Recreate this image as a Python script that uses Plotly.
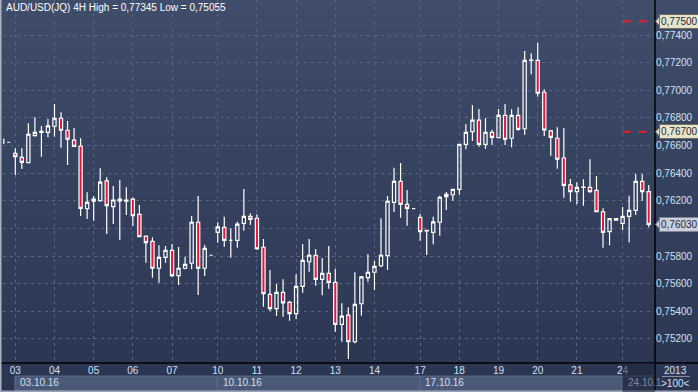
import plotly.graph_objects as go

# ---------------- data (AUD/USD 4H) ----------------
open_ = [0.76646, 0.76624, 0.76544, 0.76515, 0.76476, 0.76672, 0.76695, 0.76696, 0.76740, 0.76798,
         0.76711, 0.76640, 0.76597, 0.76143, 0.76197, 0.76201, 0.76344, 0.76158, 0.76200, 0.76197,
         0.76213, 0.76102, 0.75945, 0.75907, 0.75712, 0.75791, 0.75842, 0.75658, 0.75712, 0.75748,
         0.76045, 0.75712, 0.75806, 0.75972, 0.76008, 0.75914, 0.75914, 0.76037, 0.76088, 0.76074,
         0.75864, 0.75523, 0.75419, 0.75538, 0.75465, 0.75383, 0.75581, 0.75759, 0.75806, 0.75632,
         0.75675, 0.75610, 0.75306, 0.75373, 0.75180, 0.75455, 0.75644, 0.75683, 0.75730, 0.75803,
         0.76189, 0.76341, 0.76175, 0.76143, 0.76081, 0.75982, 0.75972, 0.76045, 0.76230, 0.76244,
         0.76283, 0.76609, 0.76701, 0.76785, 0.76609, 0.76696, 0.76657, 0.76819, 0.76653, 0.76819,
         0.76722, 0.77217, 0.77217, 0.76986, 0.76706, 0.76653, 0.76510, 0.76315, 0.76266, 0.76297,
         0.76298, 0.76276, 0.76121, 0.75977, 0.76071, 0.76037, 0.76088, 0.76131, 0.76341, 0.76266]
high = [0.76650, 0.76626, 0.76580, 0.76580, 0.76761, 0.76805, 0.76742, 0.76792, 0.76901, 0.76841,
        0.76778, 0.76727, 0.76653, 0.76262, 0.76235, 0.76436, 0.76370, 0.76307, 0.76351, 0.76298,
        0.76223, 0.76170, 0.75947, 0.75936, 0.75878, 0.75873, 0.75887, 0.75866, 0.75795, 0.76090,
        0.76235, 0.75880, 0.75808, 0.76045, 0.76085, 0.76001, 0.76049, 0.76286, 0.76110, 0.76102,
        0.75924, 0.75699, 0.75598, 0.75632, 0.75477, 0.75668, 0.75887, 0.75924, 0.75851, 0.75786,
        0.75873, 0.75706, 0.75458, 0.75429, 0.75683, 0.75656, 0.75815, 0.75764, 0.76074, 0.76235,
        0.76440, 0.76474, 0.76278, 0.76145, 0.76105, 0.75989, 0.76085, 0.76237, 0.76264, 0.76285,
        0.76611, 0.76756, 0.76894, 0.76865, 0.76800, 0.76715, 0.76865, 0.76901, 0.76863, 0.76877,
        0.77285, 0.77268, 0.77345, 0.77008, 0.76713, 0.76732, 0.76727, 0.76358, 0.76334, 0.76356,
        0.76501, 0.76380, 0.76146, 0.76073, 0.76073, 0.76155, 0.76237, 0.76394, 0.76394, 0.76315]
low = [0.76610, 0.76622, 0.76387, 0.76430, 0.76472, 0.76666, 0.76520, 0.76660, 0.76664, 0.76585,
       0.76459, 0.76590, 0.76090, 0.76068, 0.76056, 0.76194, 0.75960, 0.76032, 0.75916, 0.76097,
       0.76018, 0.75936, 0.75752, 0.75644, 0.75607, 0.75752, 0.75646, 0.75591, 0.75704, 0.75704,
       0.75518, 0.75656, 0.75804, 0.75897, 0.75868, 0.75788, 0.75861, 0.75984, 0.76025, 0.75844,
       0.75434, 0.75402, 0.75366, 0.75361, 0.75332, 0.75342, 0.75535, 0.75687, 0.75586, 0.75516,
       0.75564, 0.75253, 0.75180, 0.75055, 0.75169, 0.75368, 0.75615, 0.75554, 0.75719, 0.75699,
       0.76119, 0.76078, 0.76020, 0.76141, 0.75911, 0.75808, 0.75885, 0.75948, 0.76134, 0.76201,
       0.76244, 0.76573, 0.76633, 0.76592, 0.76577, 0.76604, 0.76655, 0.76604, 0.76588, 0.76708,
       0.76679, 0.77116, 0.76954, 0.76669, 0.76527, 0.76433, 0.76223, 0.76194, 0.76175, 0.76165,
       0.76259, 0.76119, 0.75861, 0.75878, 0.76058, 0.75989, 0.75900, 0.76097, 0.76201, 0.76008]
close = [0.76617, 0.76624, 0.76520, 0.76479, 0.76682, 0.76696, 0.76703, 0.76742, 0.76798, 0.76711,
         0.76646, 0.76595, 0.76146, 0.76189, 0.76213, 0.76336, 0.76165, 0.76206, 0.76212, 0.76206,
         0.76092, 0.75940, 0.75897, 0.75712, 0.75791, 0.75842, 0.75658, 0.75712, 0.75740, 0.76045,
         0.75712, 0.75856, 0.75806, 0.76011, 0.75914, 0.75914, 0.76032, 0.76088, 0.76066, 0.75853,
         0.75528, 0.75419, 0.75538, 0.75462, 0.75383, 0.75581, 0.75769, 0.75806, 0.75632, 0.75675,
         0.75610, 0.75306, 0.75366, 0.75180, 0.75451, 0.75649, 0.75683, 0.75726, 0.75806, 0.76197,
         0.76341, 0.76175, 0.76146, 0.76143, 0.75977, 0.75986, 0.76047, 0.76226, 0.76247, 0.76283,
         0.76609, 0.76696, 0.76785, 0.76609, 0.76696, 0.76660, 0.76819, 0.76646, 0.76819, 0.76718,
         0.77217, 0.77219, 0.76979, 0.76713, 0.76660, 0.76501, 0.76312, 0.76266, 0.76298, 0.76299,
         0.76266, 0.76121, 0.75972, 0.76071, 0.76060, 0.76088, 0.76131, 0.76341, 0.76266, 0.76030]

day_tick_idx = [2, 8, 14, 20, 26, 33, 39, 45, 51, 57, 64, 70, 76, 82, 88, 95]
day_tick_text = ["03", "04", "05", "06", "07", "10", "11", "12", "13", "14",
                 "17", "18", "19", "20", "21", "24"]
week_start_idx = [2, 33, 64, 95]
week_labels = ["03.10.16", "10.10.16", "17.10.16", "24.10.1"]
price_ticks = [0.752, 0.754, 0.756, 0.758, 0.762, 0.764, 0.766, 0.768, 0.770, 0.772, 0.774]
hidden_grid = [0.760]          # gridline whose label is covered by the last-price box
alert_levels = [0.775, 0.767]
title_text = "AUD/USD(JQ) 4H High = 0,77345 Low = 0,75055"
year_text = "2013"
zoom_text = ">100<"

x = list(range(len(open_)))
last_price = close[-1]

FONT = "Liberation Sans, Arial, sans-serif"
LABEL = "#d3e0f3"
GRID = "#56658a"
FS = 10

fig = go.Figure()
fig.add_trace(go.Candlestick(
    x=x, open=open_, high=high, low=low, close=close,
    increasing=dict(line=dict(color="#ffffff", width=1.2), fillcolor="rgba(0,0,0,0)"),
    decreasing=dict(line=dict(color="#ffffff", width=1.2), fillcolor="#e3173d"),
    whiskerwidth=0, hoverinfo="skip", showlegend=False,
))

shapes = []
# background gradient (whole picture)
top = (63, 77, 106)
bot = (42, 53, 81)
n = 40
y_lo, y_hi = -0.085, 1.0
for i in range(n):
    t = i / (n - 1)
    c = tuple(round(top[k] + (bot[k] - top[k]) * t) for k in range(3))
    y1 = y_hi - (y_hi - y_lo) * i / n
    y0 = y_hi - (y_hi - y_lo) * (i + 1) / n
    shapes.append(dict(type="rect", xref="paper", yref="paper", x0=-0.01, x1=1.07,
                       y0=y0 - 0.002, y1=y1, fillcolor="rgb(%d,%d,%d)" % c,
                       line=dict(width=0), layer="below"))

for g in hidden_grid:
    shapes.append(dict(type="line", xref="paper", yref="y", x0=0, x1=1, y0=g, y1=g,
                       line=dict(color=GRID, width=1, dash="3px,4px"), layer="below"))

# week boxes in the date row
bounds = week_start_idx + [100.5]
for i, lab in enumerate(week_labels):
    last = i == len(week_labels) - 1
    shapes.append(dict(type="rect", xref="x", yref="paper",
                       x0=bounds[i] - 0.05, x1=bounds[i + 1] - 0.05,
                       y0=-0.076, y1=-0.036,
                       fillcolor="#4a5977" if not last else "#36425e",
                       line=dict(color="#5d6d8b", width=1), layer="below"))

# frame lines
shapes.append(dict(type="line", xref="paper", yref="paper", x0=1.0, x1=1.0, y0=-0.09, y1=1.0,
                   line=dict(color="#000000", width=1.5)))
shapes.append(dict(type="line", xref="paper", yref="paper", x0=-0.01, x1=1.07, y0=0, y1=0,
                   line=dict(color="#000000", width=1.5)))
shapes.append(dict(type="line", xref="paper", yref="paper", x0=-0.0038, x1=-0.0038, y0=-0.09, y1=1.0,
                   line=dict(color="#aab2c0", width=2)))
shapes.append(dict(type="line", xref="paper", yref="paper", x0=-0.01, x1=1.07, y0=-0.0785, y1=-0.0785,
                   line=dict(color="#9aa3b3", width=2)))
# dim overlay of the current week in the time axis
shapes.append(dict(type="rect", xref="x", yref="paper", x0=week_start_idx[-1] - 0.05, x1=100.5,
                   y0=-0.085, y1=0, fillcolor="rgba(30,38,58,0.55)", line=dict(width=0),
                   layer="above"))
# underline under year
shapes.append(dict(type="line", xref="paper", yref="paper", x0=1.0105, x1=1.0535, y0=-0.037, y1=-0.037,
                   line=dict(color="#8d98ac", width=1)))

# alert levels (red dashed) + label boxes
for lv in alert_levels:
    shapes.append(dict(type="line", xref="paper", yref="y", x0=0.9505, x1=0.988, y0=lv, y1=lv,
                       line=dict(color="#e8202a", width=2, dash="8px,8px")))

ann = []
h = 0.00036
for lv, bg, bd in [(alert_levels[0], "#e7e4ca", "#6f6e60"), (alert_levels[1], "#e7e4ca", "#6f6e60"),
                   (last_price, "#c9ced8", "#7c8496")]:
    shapes.append(dict(type="path", xref="paper", yref="y",
                       path="M 1.0008,%f L 1.0075,%f L 1.0075,%f Z" % (lv, lv + h, lv - h),
                       fillcolor=bg, line=dict(color=bd, width=1)))
    ann.append(dict(xref="paper", yref="y", x=1.0065, y=lv, xanchor="left", yanchor="middle",
                    text=("%.5f" % lv).replace(".", ","), showarrow=False,
                    font=dict(family=FONT, size=FS, color="#1b2a44"),
                    bgcolor=bg, bordercolor=bd, borderwidth=1, borderpad=1))

ann.append(dict(xref="paper", yref="paper", x=0.0015, y=0.978, xanchor="left", yanchor="middle",
                text=title_text, showarrow=False, font=dict(family=FONT, size=FS, color="#ffffff")))
for s, lab in zip(week_start_idx, week_labels):
    ann.append(dict(xref="x", yref="paper", x=s, y=-0.055, xanchor="left", yanchor="middle",
                    xshift=3, text=lab, showarrow=False,
                    font=dict(family=FONT, size=FS,
                              color=LABEL if lab != week_labels[-1] else "#7f8ba0")))
ann.append(dict(xref="paper", yref="paper", x=1.0322, y=-0.0193, xanchor="center", yanchor="middle",
                text=year_text, showarrow=False, font=dict(family=FONT, size=FS, color=LABEL)))
ann.append(dict(xref="paper", yref="paper", x=1.0322, y=-0.0551, xanchor="center", yanchor="middle",
                text=zoom_text, showarrow=False, font=dict(family=FONT, size=FS, color=LABEL)))

fig.update_layout(
    width=698, height=392,
    margin=dict(l=3, r=43, t=0, b=29, pad=0, autoexpand=False),
    paper_bgcolor="rgba(0,0,0,0)", plot_bgcolor="rgba(0,0,0,0)",
    separators=", ", boxgap=0.3,
    shapes=shapes, annotations=ann,
    showlegend=False,
    xaxis=dict(range=[0.116, 99.96], rangeslider=dict(visible=False), automargin=False,
               tickmode="array", tickvals=day_tick_idx, ticktext=day_tick_text,
               showgrid=True, gridcolor=GRID, griddash="3px,4px", gridwidth=1,
               zeroline=False, showline=False, ticks="",
               tickfont=dict(family=FONT, size=FS, color=LABEL)),
    yaxis=dict(range=[0.75026, 0.77654], side="right", automargin=False,
               tickmode="array", tickvals=price_ticks, tickformat=".5f",
               showgrid=True, gridcolor=GRID, griddash="3px,4px", gridwidth=1,
               zeroline=False, showline=False, ticks="",
               tickfont=dict(family=FONT, size=FS, color=LABEL)),
)

fig.write_html("out.html", config={"displayModeBar": False},
               post_script="document.body.style.margin='0';document.body.style.overflow='hidden';"
                           "document.body.style.background='#2b3651';")
